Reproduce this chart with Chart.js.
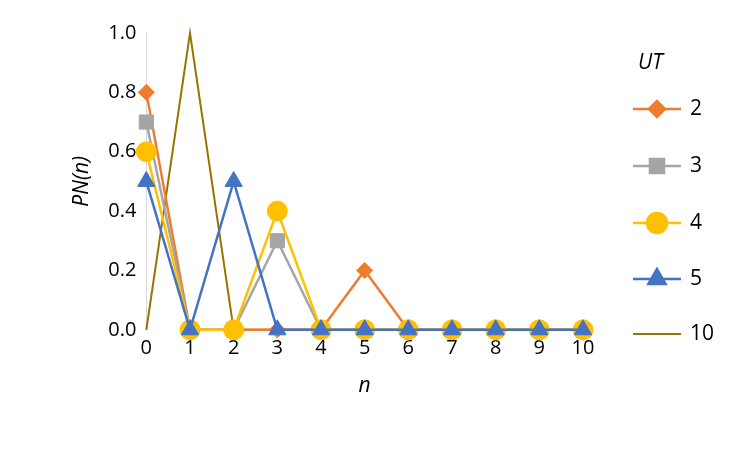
<!DOCTYPE html>
<html><head><meta charset="utf-8">
<script src="https://cdn.jsdelivr.net/npm/chart.js@4/dist/chart.umd.min.js"></script>
<style>html,body{margin:0;padding:0;background:#fff}#w{width:750px;height:450px}</style>
</head><body><div id="w"><canvas id="c"></canvas></div>
<script>
const nValues = [0,1,2,3,4,5,6,7,8,9,10];
const ut2 = [0.8,0,0,0,0,0.2,0,0,0,0,0];
const ut3 = [0.7,0,0,0.3,0,0,0,0,0,0,0];
const ut4 = [0.6,0,0,0.4,0,0,0,0,0,0,0];
const ut5 = [0.5,0,0.5,0,0,0,0,0,0,0,0];
const ut10 = [0,1,0,0,0,0,0,0,0,0,0];
const seriesLabels = ['2','3','4','5','10'];
const colors = ['#ED7D31','#A5A5A5','#FFC000','#4472C4','#997300'];
const styles = ['rectRot','rect','circle','triangle',false];
const radii = [8,10,10,10,0];
const orders = [3,2,1,0,4];
const all = [ut2,ut3,ut4,ut5,ut10];
const datasets = all.map((d,i)=>({
  label: seriesLabels[i],
  data: d.map((v,j)=>({x:nValues[j],y:v})),
  borderColor: colors[i], backgroundColor: colors[i], order: orders[i], clip:false,
  borderWidth: i===4?2:2.5, pointStyle: styles[i], pointRadius: radii[i], pointHoverRadius: radii[i],
  pointBorderWidth: 1
}));
const font = "'Open Sans', sans-serif";
const legendPlugin = {
  id:'lg',
  afterDraw(ch){
    const c = ch.ctx; c.save();
    c.font = "italic 21px "+font; c.fillStyle='#000'; c.textBaseline='middle';
    c.fillText('UT', 638, 63);
    const ys=[109,166,223,279,334];
    datasets.forEach((d,i)=>{
      const y=ys[i];
      c.strokeStyle=d.borderColor; c.lineWidth=d.borderWidth;
      c.beginPath(); c.moveTo(633,y); c.lineTo(681,y); c.stroke();
      if(d.pointStyle){
        c.fillStyle=d.backgroundColor;
        Chart.helpers.drawPoint(c,{pointStyle:d.pointStyle,radius:d.pointRadius,borderWidth:1},657,y);
        c.fill();
      }
      c.fillStyle='#000'; c.font="21px "+font;
      c.fillText(d.label, 690, y);
    });
    c.restore();
  }
};
new Chart(document.getElementById('c'),{
  type:'line',
  data:{datasets},
  options:{
    responsive:true, maintainAspectRatio:false, animation:false,
    layout:{padding:{left:65,right:167,top:33,bottom:47}},
    plugins:{legend:{display:false},tooltip:{enabled:false}},
    scales:{
      x:{type:'linear',min:0,max:10,
        ticks:{stepSize:1,color:'#000',font:{family:font,size:20},padding:6},
        grid:{display:false,drawTicks:false},border:{display:false},
        title:{display:true,text:'n',color:'#000',font:{family:font,size:21,style:'italic'},padding:{top:8}}},
      y:{min:0,max:1,
        ticks:{stepSize:0.2,color:'#000',font:{family:font,size:20},padding:10,callback:v=>v.toFixed(1)},
        grid:{display:false,drawTicks:false},border:{display:true,color:'#D9D9D9',width:1},
        title:{display:true,text:'PN(n)',color:'#000',font:{family:font,size:21,style:'italic'},padding:{bottom:4}}}
    }
  },
  plugins:[legendPlugin]
});
</script></body></html>
